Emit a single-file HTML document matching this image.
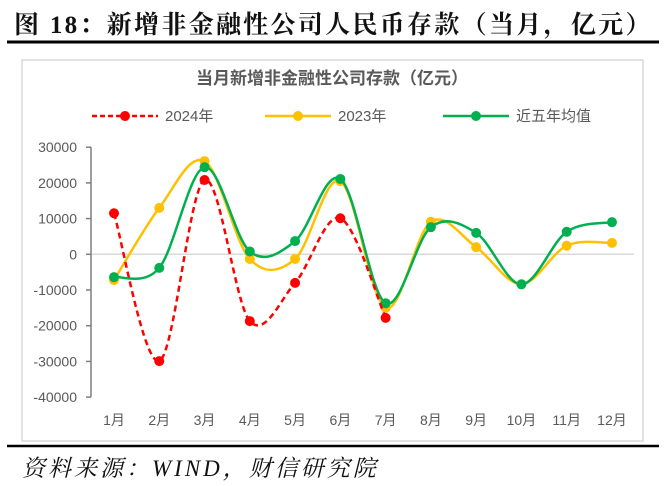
<!DOCTYPE html>
<html><head><meta charset="utf-8"><style>
body{margin:0;width:666px;height:486px;background:#fff;overflow:hidden;position:relative;font-family:"Liberation Sans","Noto Sans CJK SC",sans-serif}
#t{position:absolute;left:14px;top:5px;font:bold 25px "Liberation Serif","Noto Serif CJK SC",serif;color:#111;letter-spacing:2.3px;white-space:nowrap}
#src{position:absolute;left:22px;top:450px;font:italic 23px "Liberation Serif","Noto Serif CJK SC",serif;color:#111;letter-spacing:3px;white-space:nowrap}
</style></head><body>
<div id="t">图 18：新增非金融性公司人民币存款（当月，亿元）</div>
<svg width="666" height="486" style="position:absolute;left:0;top:0" id="svg">
<line x1="7" y1="42" x2="659" y2="42" stroke="#000" stroke-width="3"/>
<rect x="22" y="60" width="621" height="381" fill="#fff" stroke="#d9d9d9" stroke-width="1.5"/>
<line x1="7" y1="446" x2="659" y2="446" stroke="#000" stroke-width="2.5"/>
<text x="332" y="84" text-anchor="middle" font-size="17" font-weight="bold" fill="#595959" font-family="Liberation Sans, Noto Sans CJK SC, sans-serif">当月新增非金融性公司存款（亿元）</text>
<g id="legend" font-size="14" fill="#595959" font-family="Liberation Sans, Noto Sans CJK SC, sans-serif"></g>
<g id="axes"></g>
<g id="series"></g>
</svg>
<div id="src">资料来源：WIND，财信研究院</div>
<script>
const categories=["1月","2月","3月","4月","5月","6月","7月","8月","9月","10月","11月","12月"];
const yTicks=[30000,20000,10000,0,-10000,-20000,-30000,-40000];
const s2024=[11500,-29900,20800,-18700,-8000,10100,-17800];
const s2023=[-7200,13000,26100,-1300,-1300,20500,-15000,9100,2000,-8400,2400,3200];
const sAvg=[-6400,-3800,24400,800,3700,21100,-13700,7600,6000,-8400,6300,9000];
const NS="http://www.w3.org/2000/svg";
const x=i=>114+i*45.27;
const y=v=>254.3-v*0.003571;
function mk(tag,attrs,parent){const e=document.createElementNS(NS,tag);for(const k in attrs)e.setAttribute(k,attrs[k]);parent.appendChild(e);return e;}
const axes=document.getElementById('axes'),ser=document.getElementById('series'),leg=document.getElementById('legend');
let zl=mk('line',{x1:91,x2:634,y1:y(0),y2:y(0),stroke:'#d9d9d9','stroke-width':1.5},axes);


let ax=mk('line',{x1:91,x2:91,y1:y(30000),y2:y(-40000),stroke:'#7f7f7f','stroke-width':1.5},axes);


yTicks.forEach(v=>{
 mk('line',{x1:86,x2:91,y1:y(v),y2:y(v),stroke:'#7f7f7f','stroke-width':1.5},axes);
 const t=mk('text',{x:77,y:y(v)+5,'text-anchor':'end','font-size':14,fill:'#595959'},axes);t.textContent=v;
 
 
});
categories.forEach((c,i)=>{
 const t=mk('text',{x:x(i),y:425,'text-anchor':'middle','font-size':14,fill:'#595959'},axes);t.textContent=c;
 
 
});
function path(vals){
 const p=vals.map((v,i)=>[x(i),y(v)]);let d=`M${p[0][0]},${p[0][1]}`;
 for(let i=0;i<p.length-1;i++){const p0=p[i-1]||p[i],p1=p[i],p2=p[i+1],p3=p[i+2]||p2;
  const c1=[p1[0]+(p2[0]-p0[0])/6,p1[1]+(p2[1]-p0[1])/6],c2=[p2[0]-(p3[0]-p1[0])/6,p2[1]-(p3[1]-p1[1])/6];
  d+=` C${c1[0]},${c1[1]} ${c2[0]},${c2[1]} ${p2[0]},${p2[1]}`;}
 return d;}
function draw(vals,color,dash,name){
 const g=mk('g',{},ser);
 
 
 mk('path',{d:path(vals),fill:'none',stroke:color,'stroke-width':2.5,'stroke-dasharray':dash||''},g);
 vals.forEach((v,i)=>{const c=mk('circle',{cx:x(i),cy:y(v),r:5,fill:color},g);
  
  });
}
draw(s2023,'#ffc000','', 'series-2023');
draw(sAvg,'#00b050','', 'series-5yr-avg');
draw(s2024,'#ff0000','6 4','series-2024');
[[92,'#ff0000','5 3','2024年'],[265,'#ffc000','','2023年'],[443,'#00b050','','近五年均值']].forEach(([lx,c,d,label])=>{
 const g=mk('g',{},leg);
 
 
 mk('line',{x1:lx,x2:lx+66,y1:116,y2:116,stroke:c,'stroke-width':2.5,'stroke-dasharray':d},g);
 mk('circle',{cx:lx+33,cy:116,r:5,fill:c},g);
 const t=mk('text',{x:lx+73,y:121,'font-size':15},g);t.textContent=label;
});
</script>
</body></html>
